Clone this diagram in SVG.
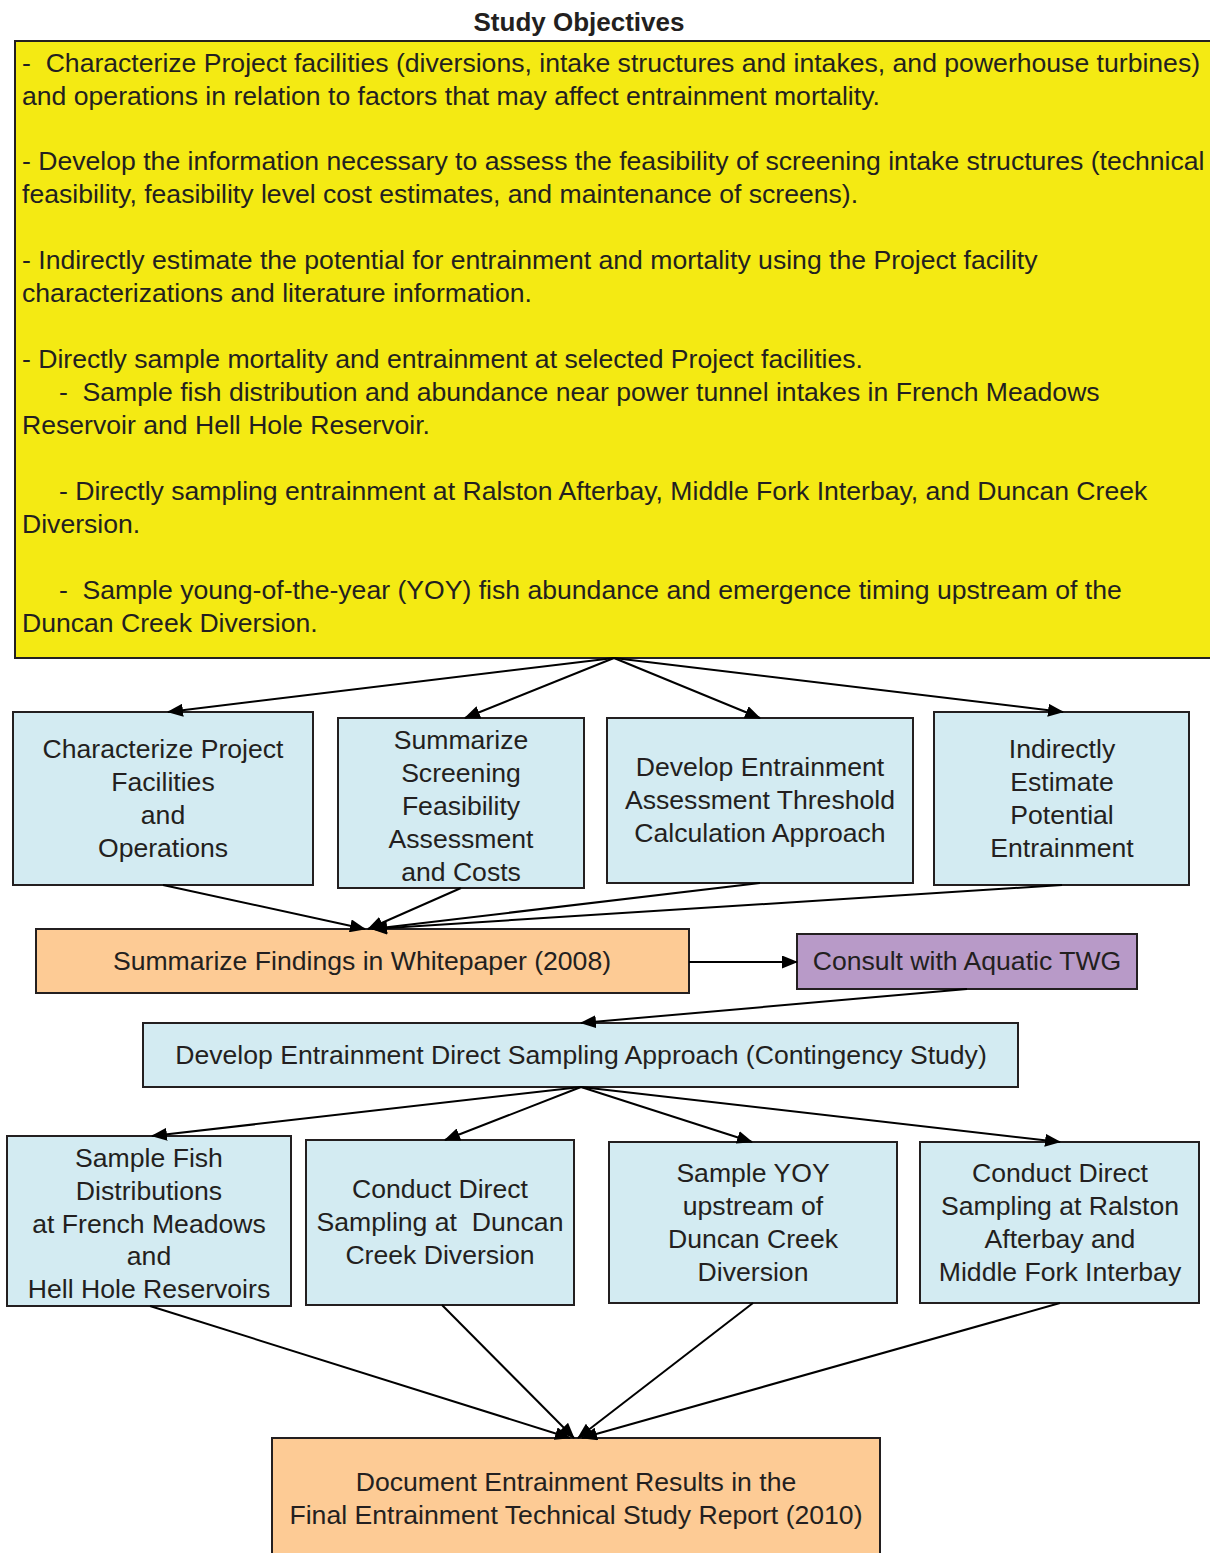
<svg xmlns="http://www.w3.org/2000/svg" width="1210" height="1553" viewBox="0 0 1210 1553">
<style>
text{font-family:"Liberation Sans",Arial,sans-serif;font-size:26.6px;fill:#231f20}
.c{text-anchor:middle}
.box{stroke:#231f20;stroke-width:2}
.blue{fill:#d3ebf2}
.orange{fill:#fdcb95}
.purple{fill:#b89ac8}
.yellow{fill:#f4ea13}
.conn line{stroke:#000;stroke-width:2;marker-end:url(#ah)}
</style>
<defs>
<marker id="ah" viewBox="0 0 16 13" refX="15" refY="6.5" markerWidth="16" markerHeight="13" orient="auto" markerUnits="userSpaceOnUse"><path d="M0,0L16,6.5L0,13z" fill="#000"/></marker>
</defs>
<rect width="1210" height="1553" fill="#fff"/>
<text x="579" y="31" class="c" style="font-weight:bold;font-size:26px">Study Objectives</text>
<g id="objectives">
<rect class="box yellow" x="15" y="41" width="1200" height="617"/>
<text x="22" y="72" xml:space="preserve">-  Characterize Project facilities (diversions, intake structures and intakes, and powerhouse turbines)</text>
<text x="22" y="105">and operations in relation to factors that may affect entrainment mortality.</text>
<text x="22" y="170">- Develop the information necessary to assess the feasibility of screening intake structures (technical</text>
<text x="22" y="203">feasibility, feasibility level cost estimates, and maintenance of screens).</text>
<text x="22" y="269">- Indirectly estimate the potential for entrainment and mortality using the Project facility</text>
<text x="22" y="302">characterizations and literature information.</text>
<text x="22" y="368">- Directly sample mortality and entrainment at selected Project facilities.</text>
<text x="22" y="401" xml:space="preserve">     -  Sample fish distribution and abundance near power tunnel intakes in French Meadows</text>
<text x="22" y="434">Reservoir and Hell Hole Reservoir.</text>
<text x="22" y="500" xml:space="preserve">     - Directly sampling entrainment at Ralston Afterbay, Middle Fork Interbay, and Duncan Creek</text>
<text x="22" y="533">Diversion.</text>
<text x="22" y="599" xml:space="preserve">     -  Sample young-of-the-year (YOY) fish abundance and emergence timing upstream of the</text>
<text x="22" y="632">Duncan Creek Diversion.</text>
</g>
<g id="characterize">
<rect class="box blue" x="13" y="712" width="300" height="173"/>
<text class="c" x="163" y="758">Characterize Project</text>
<text class="c" x="163" y="791">Facilities</text>
<text class="c" x="163" y="824">and</text>
<text class="c" x="163" y="857">Operations</text>
</g>
<g id="screening">
<rect class="box blue" x="338" y="718" width="246" height="170"/>
<text class="c" x="461" y="749">Summarize</text>
<text class="c" x="461" y="782">Screening</text>
<text class="c" x="461" y="815">Feasibility</text>
<text class="c" x="461" y="848">Assessment</text>
<text class="c" x="461" y="881">and Costs</text>
</g>
<g id="threshold">
<rect class="box blue" x="607" y="718" width="306" height="165"/>
<text class="c" x="760" y="776">Develop Entrainment</text>
<text class="c" x="760" y="809">Assessment Threshold</text>
<text class="c" x="760" y="842">Calculation Approach</text>
</g>
<g id="indirect">
<rect class="box blue" x="934" y="712" width="255" height="173"/>
<text class="c" x="1062" y="758">Indirectly</text>
<text class="c" x="1062" y="791">Estimate</text>
<text class="c" x="1062" y="824">Potential</text>
<text class="c" x="1062" y="857">Entrainment</text>
</g>
<g id="whitepaper">
<rect class="box orange" x="36" y="929" width="653" height="64"/>
<text class="c" x="362" y="970">Summarize Findings in Whitepaper (2008)</text>
</g>
<g id="consult">
<rect class="box purple" x="797" y="934" width="340" height="55"/>
<text class="c" x="967" y="970">Consult with Aquatic TWG</text>
</g>
<g id="direct">
<rect class="box blue" x="143" y="1023" width="875" height="64"/>
<text class="c" x="581" y="1064">Develop Entrainment Direct Sampling Approach (Contingency Study)</text>
</g>
<g id="fish">
<rect class="box blue" x="7" y="1136" width="284" height="170"/>
<text class="c" x="149" y="1167">Sample Fish</text>
<text class="c" x="149" y="1200">Distributions</text>
<text class="c" x="149" y="1233">at French Meadows</text>
<text class="c" x="149" y="1265">and</text>
<text class="c" x="149" y="1298">Hell Hole Reservoirs</text>
</g>
<g id="duncan">
<rect class="box blue" x="306" y="1140" width="268" height="165"/>
<text class="c" x="440" y="1198">Conduct Direct</text>
<text class="c" x="440" y="1231" xml:space="preserve">Sampling at  Duncan</text>
<text class="c" x="440" y="1264">Creek Diversion</text>
</g>
<g id="yoy">
<rect class="box blue" x="609" y="1142" width="288" height="161"/>
<text class="c" x="753" y="1182">Sample YOY</text>
<text class="c" x="753" y="1215">upstream of</text>
<text class="c" x="753" y="1248">Duncan Creek</text>
<text class="c" x="753" y="1281">Diversion</text>
</g>
<g id="ralston">
<rect class="box blue" x="920" y="1142" width="279" height="161"/>
<text class="c" x="1060" y="1182">Conduct Direct</text>
<text class="c" x="1060" y="1215">Sampling at Ralston</text>
<text class="c" x="1060" y="1248">Afterbay and</text>
<text class="c" x="1060" y="1281">Middle Fork Interbay</text>
</g>
<g id="final">
<rect class="box orange" x="272" y="1438" width="608" height="125"/>
<text class="c" x="576" y="1491">Document Entrainment Results in the</text>
<text class="c" x="576" y="1524">Final Entrainment Technical Study Report (2010)</text>
</g>
<g id="connectors" class="conn">
<line x1="614" y1="658" x2="168" y2="712"/>
<line x1="614" y1="658" x2="465" y2="718"/>
<line x1="614" y1="658" x2="760" y2="718"/>
<line x1="614" y1="658" x2="1063" y2="712"/>
<line x1="163" y1="885" x2="365" y2="929"/>
<line x1="461" y1="888" x2="368" y2="929"/>
<line x1="760" y1="883" x2="372" y2="929"/>
<line x1="1062" y1="885" x2="372" y2="929"/>
<line x1="689" y1="962" x2="797" y2="962"/>
<line x1="967" y1="989" x2="581" y2="1023"/>
<line x1="581" y1="1087" x2="152" y2="1136"/>
<line x1="581" y1="1087" x2="445" y2="1140"/>
<line x1="581" y1="1087" x2="752" y2="1142"/>
<line x1="581" y1="1087" x2="1060" y2="1142"/>
<line x1="150" y1="1306" x2="570" y2="1438"/>
<line x1="442" y1="1305" x2="574" y2="1438"/>
<line x1="753" y1="1303" x2="578" y2="1438"/>
<line x1="1060" y1="1303" x2="582" y2="1438"/>
</g>
</svg>
